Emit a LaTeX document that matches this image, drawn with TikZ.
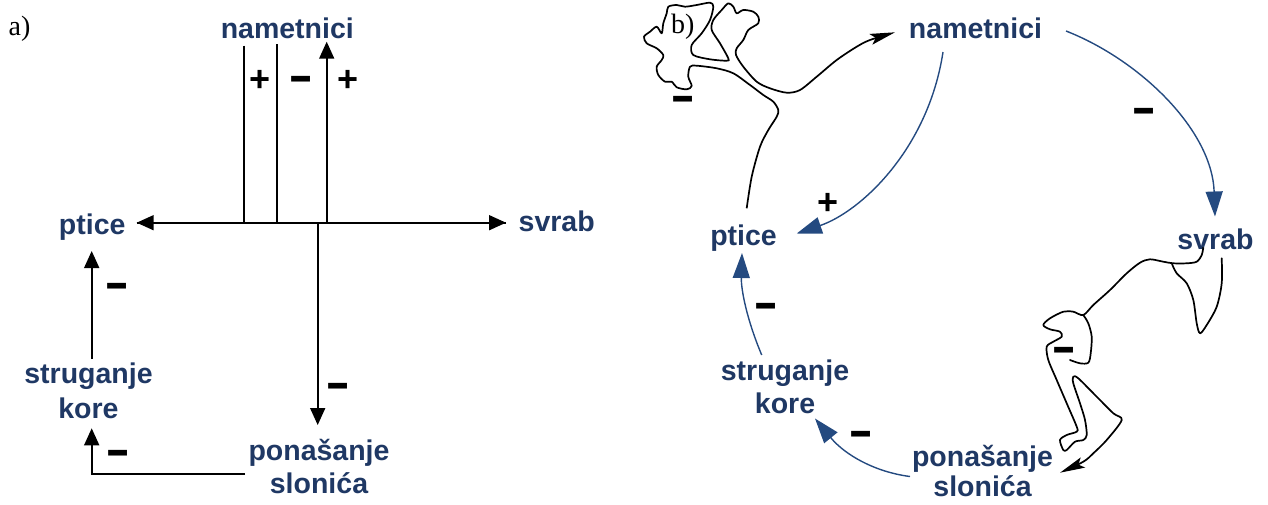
\documentclass[tikz,border=0pt]{standalone}
\usepackage{fontspec}
\setmainfont{Liberation Sans}
\newfontfamily\serifb{Liberation Serif}
\usetikzlibrary{arrows.meta,calc}
\definecolor{tblue}{RGB}{31,56,100}
\definecolor{ablue}{RGB}{36,74,128}
\newcommand{\minussign}{\scalebox{1}[1.5]{\bfseries\fontsize{38}{38}\selectfont –}}
\begin{document}
\begin{tikzpicture}[x=1pt,y=-1pt,
  lbl/.style={font=\bfseries\fontsize{28.5}{33}\selectfont, text=tblue, inner sep=0pt, anchor=base},
  pls/.style={font=\bfseries\fontsize{36}{36}\selectfont, inner sep=0pt, anchor=base},
  mns/.style={inner sep=0pt, anchor=base},
  tag/.style={font=\serifb\fontsize{28}{28}\selectfont, inner sep=0pt, anchor=base west},
  arrA/.style={line width=1.7pt, -{Triangle[length=17pt,width=15pt]}},
  arrB/.style={line width=1.4pt, color=ablue, -{Triangle[length=25pt,width=17pt]}},
  arrK/.style={line width=1.7pt, line join=round, -{Stealth[length=25pt,width=11pt,inset=5pt]}},
  squig/.style={line width=1.7pt, line join=round, line cap=round}
]
\useasboundingbox (0,0) rectangle (1268,504);

% ---------- panel a ----------
\node[tag] (tA) at (8.5,35) {a)};
\node[lbl] (nA) at (287.3,38.3) {nametnici};
\node[lbl] (ptA) at (92.2,234.3) {ptice};
\node[lbl] (svA) at (556.7,231) {svrab};
\node[lbl] (stA) at (88.5,383.3) {\begin{tabular}[t]{@{}c@{}}struganje\\[2pt]kore\end{tabular}};
\node[lbl] (poA) at (319,460.7) {\begin{tabular}[t]{@{}c@{}}ponašanje\\slonića\end{tabular}};

\draw[arrA] ($(nA.base)+(-43.3,7.4)$) |- ($(ptA.base)+(44.5,-11.6)$);
\draw[arrA] ($(nA.base)+(-10.6,6)$) |- ($(svA.base)+(-50.7,-8.3)$);
\draw[arrA] ($(ptA.base)+(44.5,-11.6)$) -| ($(nA.base)+(39.4,3.4)$);
\draw[arrA] ($(svA.base)+(-50.7,-8.3)$) -| ($(poA.base)+(-1.3,-35.7)$);
\draw[arrA] ($(poA.base)+(-74,13.3)$) -| ($(stA.base)+(3.2,45)$);
\draw[arrA] ($(stA.base)+(3.2,-24.3)$) -- ($(ptA.base)+(-0.5,16.7)$);

\node[pls] (p1) at (260,91) {+};
\node[mns] (m1) at (301,94.5) {\minussign};
\node[pls] (p2) at (348,91) {+};
\node[mns] (m2) at (117,301.8) {\minussign};
\node[mns] (m3) at (338,401.8) {\minussign};
\node[mns] (m4) at (118,468.8) {\minussign};

% ---------- panel b ----------
\node[tag] (tB) at (671,33.3) {b)};
\node[lbl] (nB) at (975.5,38) {nametnici};
\node[lbl] (ptB) at (743.5,245) {ptice};
\node[lbl] (svB) at (1215.5,249) {svrab};
\node[lbl] (stB) at (785,380) {\begin{tabular}[t]{@{}c@{}}struganje\\kore\end{tabular}};
\node[lbl] (poB) at (982.5,466.7) {\begin{tabular}[t]{@{}c@{}}ponašanje\\[-3pt]slonića\end{tabular}};

\draw[arrB] ($(nB.base)+(-32.5,14)$) .. controls (928,150) and (860,212) .. ($(ptB.base)+(53.2,-11.5)$);
\draw[arrB] ($(nB.base)+(90.5,-7)$) .. controls (1140,60) and (1212,130) .. ($(svB.base)+(-0.5,-32.5)$);
\draw[arrB] ($(stB.base)+(-23.3,-25)$) .. controls (747,320) and (741,290) .. ($(ptB.base)+(-1.5,8)$);
\draw[arrB] ($(poB.base)+(-72.5,9.8)$) .. controls (875,472) and (845,455) .. ($(stB.base)+(30,38.5)$);

\draw[arrK] plot[smooth, tension=0.5] coordinates { ($(ptB.base)+(3.2,-36.7)$) (751.7,176.7) (760,146.7) (768.3,130) (776.7,116.7) (778.3,110) (773.3,101.7) (763.3,95) (750,85) (733.3,73.3) (716.7,68.3) (696.7,65.7) (690,66.7) (688.3,76.7) (691.7,86) (686.7,89.3) (676.7,87.3) (671.7,81.7) (665,81.7) (658.3,75) (656.7,66.7) (661.7,60) (663.3,55) (656.7,48.3) (646.7,43.3) (644,36.7) (650,31.7) (656.7,26.7) (661.7,33.3) (663.3,23.3) (666.7,13.3) (668.3,6.7) (676.7,5) (685,6.7) (696.7,5) (710,2.7) (713.3,6.7) (710,20) (701.7,33.3) (691.7,45) (693.3,55) (710,59.3) (726.7,60.7) (728.3,58.3) (720,43.3) (711.7,30) (713.3,20) (721.7,10) (728.3,3.3) (733.3,6.7) (736.7,13.3) (743.3,10) (753.3,11.7) (758.3,16.7) (758.3,23.3) (748.3,30) (743.3,40) (736.7,48.3) (736,55) (743.3,66.7) (756.7,81.7) (770,88.3) (786.7,92.7) (800,90) (816.7,76.7) (836.7,60) (856.7,46.7) (870,40) ($(nB.base)+(-80.5,-5.7)$) };

\draw[arrK] plot[smooth, tension=0.5] coordinates { ($(svB.base)+(-12.2,-1.7)$) (1201.7,255) (1196.7,261.7) (1186.7,263.3) (1173.3,263.3) (1163.3,261.7) (1150,259.3) (1140,262.7) (1126.7,273.3) (1110,290) (1093.3,305) (1083.3,315) (1073.3,311.7) (1063.3,311.7) (1050,318.3) (1043.3,325) (1050,329.3) (1060,331.7) (1061.7,336.7) (1053.3,341.7) (1046.7,346.7) (1048.3,360) (1056.7,380) (1066.7,403.3) (1076.7,426.7) (1076.7,431.7) (1066.7,435) (1060,440) (1063.3,450) (1066.7,450) (1075,441.7) (1083.3,440) (1086.7,435) (1085,420) (1080,403.3) (1073.3,383.3) (1073.3,376.7) (1078.3,378.3) (1096.7,396.7) (1113.3,413.3) (1121.7,420) (1106.7,440) (1093.3,453.3) (1083.3,461.7) ($(poB.base)+(77.5,6)$) };
\draw[squig] plot[smooth, tension=0.5] coordinates { (1172,264) (1176.7,273.3) (1186.7,283.3) (1193.3,300) (1196.7,323.3) (1200,333.3) (1206.7,325) (1216.7,306.7) (1221.7,283.3) (1221.7,258.3) };
\draw[squig] plot[smooth, tension=0.5] coordinates { (1083.3,315) (1088.3,323.3) (1091.7,336.7) (1090.7,353.3) (1088.3,362.7) (1080,363.3) (1070,360) };

\node[mns] (m5) at (683.5,114.8) {\minussign};
\node[mns] (m6) at (1144,126.8) {\minussign};
\node[pls] (p3) at (828,214) {+};
\node[mns] (m7) at (766,321.8) {\minussign};
\node[mns] (m8) at (1064.5,365.8) {\minussign};
\node[mns] (m9) at (861,449.8) {\minussign};
\end{tikzpicture}
\end{document}
